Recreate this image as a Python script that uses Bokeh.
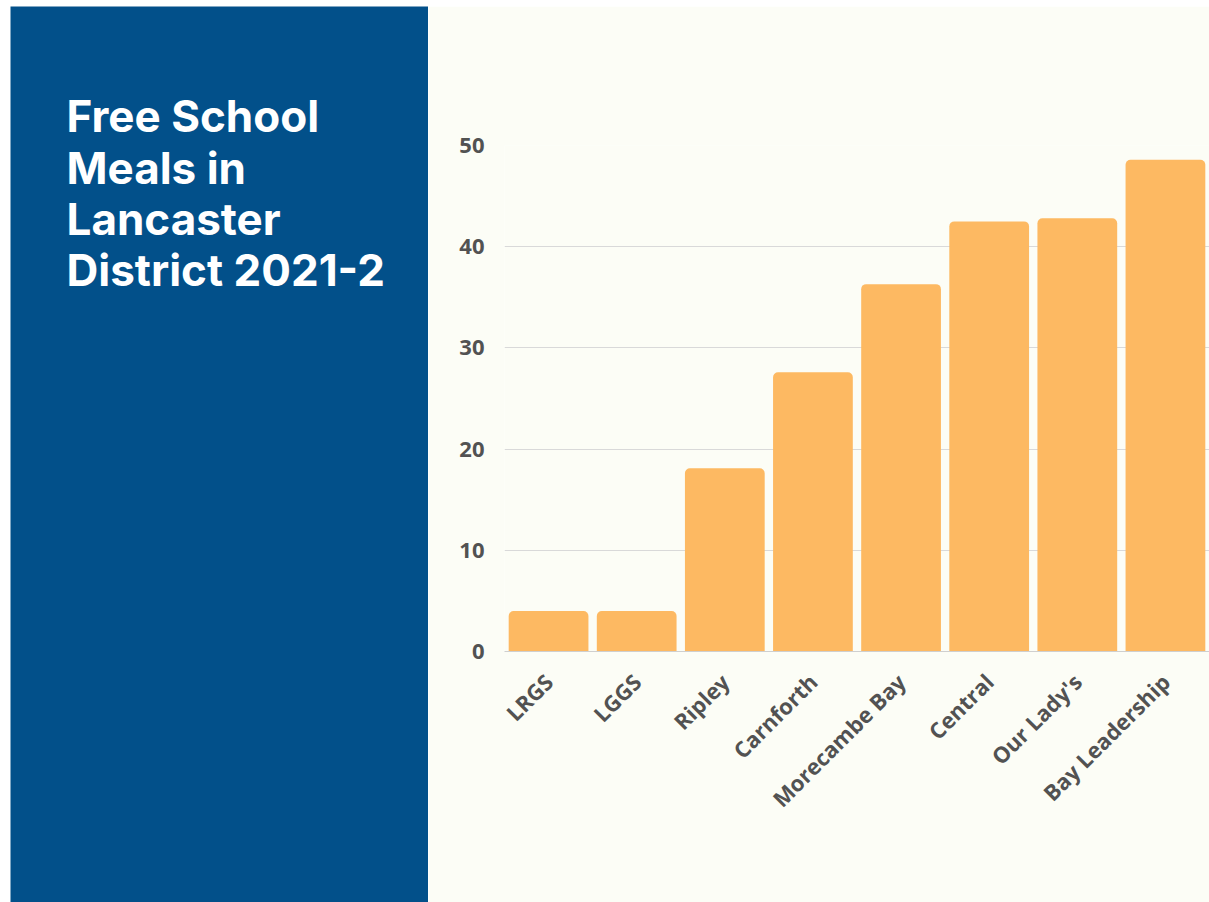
from bokeh.plotting import figure
from bokeh.models import ColumnDataSource, Range1d, FactorRange, FixedTicker, Spacer
from bokeh.layouts import row, column
from bokeh.core.properties import value
from bokeh.embed import file_html
from bokeh.resources import INLINE

# ---- data ----
schools = ["LRGS", "LGGS", "Ripley", "Carnforth", "Morecambe Bay", "Central", "Our Lady's", "Bay Leadership"]
fsm_percent = [4.0, 4.0, 18.1, 27.6, 36.3, 42.5, 42.8, 48.6]
y_ticks = [0, 10, 20, 30, 40, 50]
title_lines = ["Free School", "Meals in", "Lancaster", "District 2021-2"]

BLUE = "#02508a"
CREAM = "#fcfdf6"
BAR = "#fdb962"
TXT = "#525252"

FIG_H = 896
LEFT_W = 428
RIGHT_W = 781

# ---- left blue title panel (frame = blue area, 1 data unit = 1 px) ----
left = figure(width=LEFT_W, height=FIG_H, output_backend="svg", toolbar_location=None,
              x_range=Range1d(0, LEFT_W - 10), y_range=Range1d(FIG_H, 0),
              x_axis_location=None, y_axis_location=None,
              min_border_left=10, min_border_right=0, min_border_top=0, min_border_bottom=0,
              outline_line_color=None, frame_align=False,
              background_fill_color=BLUE, border_fill_color="white")
left.grid.visible = False
line_y = [109, 161, 212, 263]
left.text(x=[56] * len(title_lines), y=line_y, text=title_lines,
          text_font=value("Inter"), text_font_style="bold", text_font_size="44px",
          text_color="white", text_baseline="alphabetic", text_align="left")

# ---- right bar chart ----
src = ColumnDataSource(dict(school=schools, val=fsm_percent))
p = figure(width=RIGHT_W, height=FIG_H, output_backend="svg", toolbar_location=None,
           x_range=FactorRange(*schools, range_padding=0), y_range=Range1d(0, 50),
           min_border_left=76, min_border_right=0, min_border_top=139, min_border_bottom=251,
           outline_line_color=None, frame_align=False,
           background_fill_color=CREAM, border_fill_color=CREAM)
p.vbar(x="school", top="val", width=0.905, source=src, fill_color=BAR, line_color=None,
       border_radius=(5, 5, 0, 0))

p.xgrid.grid_line_color = None
p.ygrid.grid_line_color = "#d9d9d9"
p.ygrid.grid_line_width = 1
p.yaxis.ticker = FixedTicker(ticks=y_ticks)
p.yaxis.axis_line_color = None
p.yaxis.major_tick_line_color = None
p.yaxis.minor_tick_line_color = None
p.yaxis.major_label_standoff = 14
p.xaxis.axis_line_color = "#cfcfcf"
p.xaxis.axis_line_width = 1
p.xaxis.major_tick_line_color = None
p.xaxis.minor_tick_line_color = None
p.xaxis.major_label_orientation = 0.785398
p.xaxis.major_label_standoff = 20
for ax in (p.xaxis, p.yaxis):
    ax.major_label_text_font = "Open Sans"
    ax.major_label_text_font_style = "bold"
    ax.major_label_text_color = TXT
    ax.major_label_text_font_size = "22px"

layout = column(Spacer(height=6, width=LEFT_W + RIGHT_W), row(left, p, spacing=0), spacing=0)
open("out.html", "w").write(file_html(layout, INLINE))
